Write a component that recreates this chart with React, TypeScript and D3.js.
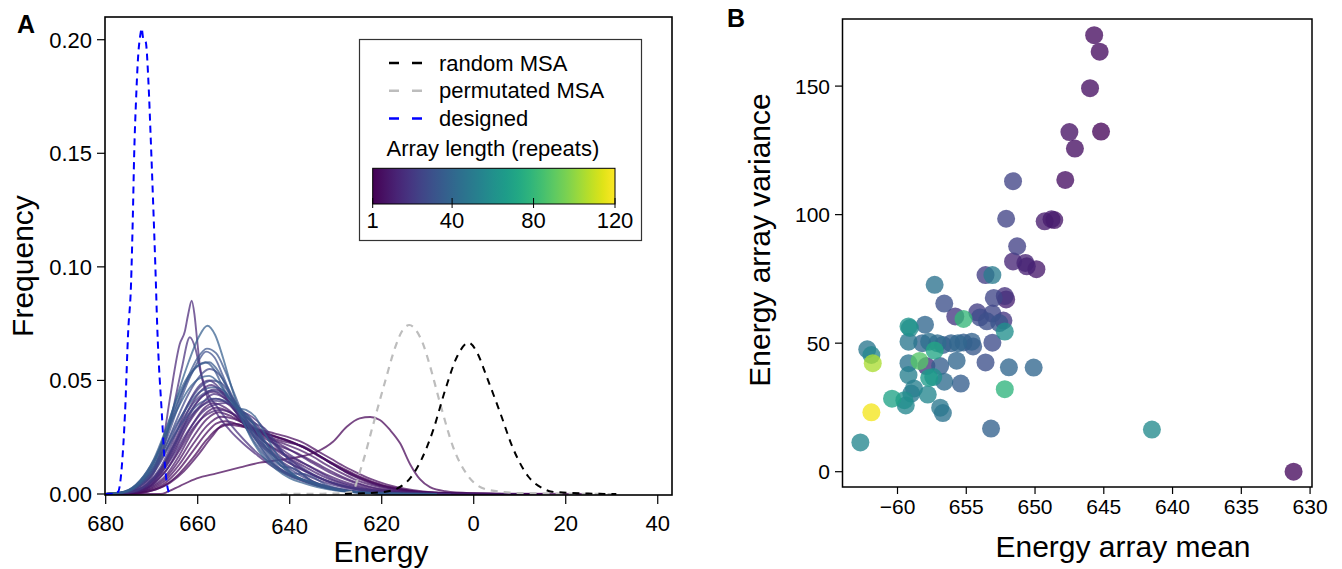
import React from "react";
import * as d3 from "d3";

// ---------- Panel A data ----------
const energyTicks = [-680, -660, -640, -620, -600, -580, -560];
const energyTickLabels = ["680", "660", "640", "620", "0", "20", "40"];
const energyTickLabelShift = [0, 0, 3, 0, 0, 0, 0];
const freqTicks = [0, 0.05, 0.1, 0.15, 0.2];
const freqTickLabels = ["0.00", "0.05", "0.10", "0.15", "0.20"];

type Pt = [number, number];

const designedCurve: Pt[] = [
  [-680, 0], [-678.3, 0], [-677.3, 0.001], [-676.5, 0.012], [-675.8, 0.0355], [-675.1, 0.072],
  [-674.5, 0.092], [-674.1, 0.122], [-673.8, 0.15], [-673.4, 0.1735], [-673.0, 0.191],
  [-672.4, 0.203], [-672.2, 0.205], [-671.8, 0.2], [-671.3, 0.199], [-670.7, 0.181],
  [-670.2, 0.156], [-669.7, 0.129], [-669.2, 0.1], [-668.8, 0.074], [-667.8, 0.0355],
  [-667.1, 0.012], [-666.4, 0.0015], [-666.0, 0],
];

const permutatedCurve: Pt[] = [
  [-642, 0], [-630, 0.0002], [-626.5, 0.001], [-624.4, 0.012], [-621.8, 0.031], [-619.2, 0.05],
  [-617, 0.065], [-615.5, 0.072], [-614, 0.0744], [-612.5, 0.072], [-611, 0.066], [-609.7, 0.0577],
  [-607.1, 0.0384], [-604.5, 0.0208], [-601.1, 0.0076], [-596.8, 0.0018], [-590, 0.0004],
  [-580, 0.0001], [-569, 0],
];

const randomCurve: Pt[] = [
  [-628, 0], [-625.2, 0.0002], [-619.2, 0.001], [-614.9, 0.0047], [-611.4, 0.015], [-608.8, 0.0282],
  [-606.2, 0.0458], [-603.5, 0.061], [-601.1, 0.0666], [-599.2, 0.062], [-597.2, 0.0517],
  [-594.2, 0.0355], [-591.6, 0.0208], [-588.1, 0.0076], [-585, 0.0025], [-583, 0.001],
  [-575, 0.0002], [-569, 0],
];

// density curves of arrays, coloured by array length (repeats)
const arrayCurveLengths = [1, 2, 3, 4, 5, 6, 8, 9, 14, 10, 11, 12, 17, 14, 15, 16, 17, 18, 20, 22, 24, 26, 28, 29, 30, 32, 33, 36, 34, 35];
const arrayCurvePoints: Pt[][] = [
  [[-680, 0], [-668, 0], [-666.5, 0.001], [-663.9, 0.0035], [-660.2, 0.0069], [-655.9, 0.0091], [-650.8, 0.0117], [-646.5, 0.0138], [-642.1, 0.015], [-637.8, 0.0164], [-634.1, 0.0186], [-630.6, 0.023], [-627.6, 0.0296], [-624.8, 0.0333], [-622.5, 0.0339], [-620.4, 0.0326], [-618.2, 0.0282], [-616, 0.0223], [-613.8, 0.013], [-611.7, 0.0065], [-609.5, 0.003], [-606.2, 0.0012], [-600.8, 0.0004], [-590, 0.0001], [-575, 0]],
  [[-680, 0], [-674, 0.0003], [-670, 0.0015], [-667, 0.004], [-664, 0.009], [-661, 0.016], [-658, 0.024], [-655.5, 0.029], [-653, 0.0305], [-650, 0.0295], [-647, 0.028], [-644, 0.026], [-641, 0.024], [-638, 0.0215], [-635, 0.0185], [-632, 0.015], [-629, 0.0118], [-626, 0.0088], [-623, 0.0062], [-620, 0.004], [-616, 0.0022], [-612, 0.001], [-606, 0.0004], [-598, 0.0001], [-585, 0]],
  [[-680, 0], [-674, 0.0004], [-670, 0.002], [-667, 0.005], [-664, 0.011], [-661, 0.019], [-658, 0.027], [-656, 0.031], [-654, 0.032], [-651, 0.0305], [-648, 0.0285], [-645, 0.0265], [-642, 0.0245], [-639, 0.0225], [-636, 0.0195], [-633, 0.016], [-630, 0.0125], [-627, 0.0093], [-624, 0.0066], [-621, 0.0044], [-617, 0.0024], [-613, 0.0011], [-607, 0.0004], [-598, 0.0001], [-585, 0]],
  [[-680, 0], [-673, 0.0004], [-669, 0.002], [-666, 0.005], [-663, 0.01], [-660, 0.017], [-657, 0.025], [-654.5, 0.0305], [-652, 0.031], [-649, 0.0295], [-646, 0.028], [-643, 0.0265], [-640, 0.0248], [-637, 0.0225], [-634, 0.019], [-631, 0.0155], [-628, 0.012], [-625, 0.009], [-622, 0.0063], [-619, 0.0042], [-615, 0.0023], [-611, 0.0011], [-605, 0.0004], [-596, 0.0001], [-585, 0]],
  [[-680, 0], [-674, 0.0005], [-670, 0.0025], [-667, 0.006], [-664, 0.013], [-661, 0.022], [-658, 0.03], [-655, 0.034], [-652, 0.033], [-649, 0.03], [-646, 0.027], [-643, 0.025], [-640, 0.023], [-637, 0.0205], [-634, 0.017], [-631, 0.0135], [-628, 0.01], [-625, 0.0072], [-622, 0.0048], [-619, 0.003], [-615, 0.0016], [-610, 0.0007], [-603, 0.0002], [-590, 0]],
  [[-680, 0], [-674, 0.0006], [-670, 0.003], [-667, 0.007], [-664, 0.015], [-661, 0.025], [-658, 0.033], [-655.5, 0.036], [-652.5, 0.034], [-649, 0.03], [-646, 0.0265], [-643, 0.024], [-640, 0.0225], [-637, 0.021], [-634, 0.0175], [-631, 0.0135], [-628, 0.0098], [-625, 0.0068], [-622, 0.0045], [-619, 0.0028], [-615, 0.0014], [-610, 0.0006], [-603, 0.0002], [-590, 0]],
  [[-680, 0], [-674, 0.0007], [-670, 0.0035], [-667, 0.008], [-664, 0.017], [-661, 0.028], [-658, 0.036], [-656, 0.038], [-653, 0.036], [-650, 0.031], [-647, 0.027], [-644, 0.024], [-641, 0.022], [-638, 0.0195], [-635, 0.0165], [-632, 0.0128], [-629, 0.0095], [-626, 0.0066], [-623, 0.0044], [-620, 0.0028], [-616, 0.0014], [-611, 0.0005], [-603, 0.0001], [-590, 0]],
  [[-680, 0], [-674, 0.0008], [-670, 0.004], [-667, 0.01], [-664, 0.02], [-661, 0.031], [-658.5, 0.038], [-656.5, 0.04], [-654, 0.038], [-651, 0.033], [-648, 0.028], [-645, 0.024], [-642, 0.021], [-639, 0.0185], [-636, 0.0155], [-633, 0.0122], [-630, 0.009], [-627, 0.0062], [-624, 0.004], [-621, 0.0025], [-617, 0.0012], [-611, 0.0004], [-600, 0]],
  [[-680, 0], [-676, 0.0005], [-672.5, 0.0035], [-669.6, 0.0102], [-667.5, 0.0235], [-666, 0.0425], [-663.9, 0.066], [-662.8, 0.0715], [-662.1, 0.0788], [-661.3, 0.0851], [-660.7, 0.079], [-660.2, 0.0693], [-659.5, 0.0561], [-658.4, 0.0458], [-656, 0.036], [-653, 0.028], [-650, 0.022], [-647, 0.017], [-644, 0.0125], [-641, 0.009], [-638, 0.0063], [-635, 0.0042], [-632, 0.0026], [-628, 0.0014], [-623, 0.0006], [-615, 0.0001], [-605, 0]],
  [[-680, 0], [-675, 0.0005], [-671, 0.003], [-668, 0.009], [-665, 0.019], [-662, 0.031], [-659, 0.039], [-656, 0.042], [-653, 0.039], [-650, 0.032], [-647, 0.026], [-644, 0.021], [-641, 0.0175], [-638, 0.0145], [-635, 0.0115], [-632, 0.0085], [-629, 0.006], [-626, 0.004], [-623, 0.0025], [-620, 0.0015], [-615, 0.0006], [-608, 0.0001], [-600, 0]],
  [[-680, 0], [-674, 0.0008], [-670, 0.004], [-667, 0.01], [-664, 0.019], [-661, 0.029], [-658, 0.035], [-655, 0.037], [-652, 0.035], [-649, 0.031], [-646, 0.027], [-643, 0.023], [-640, 0.0195], [-637, 0.016], [-634, 0.0125], [-631, 0.0092], [-628, 0.0065], [-625, 0.0043], [-622, 0.0027], [-618, 0.0014], [-613, 0.0005], [-604, 0]],
  [[-680, 0], [-675, 0.0006], [-671, 0.0035], [-668, 0.01], [-665, 0.021], [-662, 0.034], [-659, 0.043], [-656.5, 0.045], [-654, 0.042], [-651, 0.035], [-648, 0.028], [-645, 0.022], [-642, 0.018], [-639, 0.0145], [-636, 0.0112], [-633, 0.008], [-630, 0.0055], [-627, 0.0036], [-624, 0.0022], [-620, 0.0011], [-615, 0.0004], [-605, 0]],
  [[-680, 0], [-676, 0.0005], [-672.5, 0.003], [-669.6, 0.009], [-667.5, 0.02], [-665.5, 0.036], [-663.5, 0.055], [-661.7, 0.069], [-660.5, 0.064], [-659.3, 0.053], [-658, 0.045], [-656, 0.039], [-653, 0.031], [-650, 0.024], [-647, 0.018], [-644, 0.0135], [-641, 0.0098], [-638, 0.007], [-635, 0.0047], [-632, 0.003], [-628, 0.0016], [-623, 0.0007], [-615, 0.0001], [-605, 0]],
  [[-680, 0], [-675, 0.0007], [-671, 0.004], [-668, 0.011], [-665, 0.023], [-662, 0.037], [-659, 0.046], [-657, 0.048], [-654.5, 0.044], [-652, 0.037], [-649, 0.029], [-646, 0.022], [-643, 0.017], [-640, 0.0135], [-637, 0.0105], [-634, 0.0075], [-631, 0.005], [-628, 0.0032], [-625, 0.002], [-621, 0.001], [-615, 0.0003], [-605, 0]],
  [[-680, 0], [-675, 0.0006], [-671, 0.0035], [-668, 0.009], [-665, 0.018], [-662, 0.028], [-659, 0.036], [-656, 0.0395], [-654, 0.04], [-651, 0.037], [-648, 0.031], [-645, 0.025], [-642, 0.02], [-639, 0.016], [-636, 0.0125], [-633, 0.009], [-630, 0.006], [-627, 0.004], [-624, 0.0025], [-620, 0.0012], [-614, 0.0004], [-605, 0]],
  [[-680, 0], [-675, 0.0007], [-671, 0.004], [-668, 0.01], [-665, 0.02], [-662, 0.032], [-659, 0.04], [-656.5, 0.044], [-654, 0.042], [-651.5, 0.037], [-649, 0.035], [-646.5, 0.031], [-644, 0.024], [-641, 0.017], [-638, 0.012], [-635, 0.0085], [-632, 0.0058], [-629, 0.0038], [-626, 0.0024], [-622, 0.0012], [-616, 0.0004], [-605, 0]],
  [[-680, 0], [-675, 0.0007], [-671, 0.0042], [-668, 0.011], [-665, 0.022], [-662, 0.035], [-659, 0.043], [-656.5, 0.046], [-654, 0.044], [-651, 0.037], [-648, 0.029], [-645, 0.022], [-642, 0.0165], [-639, 0.0125], [-636, 0.0093], [-633, 0.0066], [-630, 0.0045], [-627, 0.003], [-623, 0.0016], [-618, 0.0006], [-608, 0]],
  [[-680, 0], [-675, 0.0008], [-671, 0.0045], [-668, 0.012], [-665, 0.025], [-662, 0.04], [-659.5, 0.048], [-657.5, 0.05], [-655, 0.046], [-652, 0.037], [-649, 0.028], [-646, 0.021], [-643, 0.016], [-640, 0.012], [-637, 0.0088], [-634, 0.0062], [-631, 0.0042], [-628, 0.0027], [-624, 0.0014], [-619, 0.0006], [-610, 0]],
  [[-680, 0], [-675, 0.0007], [-671, 0.0042], [-668, 0.011], [-665, 0.022], [-662, 0.033], [-659, 0.039], [-656, 0.041], [-653, 0.04], [-650, 0.036], [-647, 0.03], [-644, 0.023], [-641, 0.017], [-638, 0.0125], [-635, 0.0088], [-632, 0.006], [-629, 0.004], [-626, 0.0025], [-622, 0.0013], [-617, 0.0005], [-608, 0]],
  [[-680, 0], [-676, 0.0006], [-672.5, 0.0038], [-669.5, 0.0095], [-667, 0.018], [-664.5, 0.028], [-662, 0.037], [-659.5, 0.043], [-657, 0.0455], [-654.5, 0.044], [-652, 0.04], [-649.5, 0.034], [-647.5, 0.031], [-645.5, 0.029], [-643.5, 0.024], [-641, 0.017], [-638.5, 0.011], [-636, 0.0068], [-633, 0.004], [-629, 0.002], [-624, 0.0007], [-615, 0]],
  [[-680, 0], [-676, 0.0007], [-672.5, 0.004], [-669.5, 0.01], [-667, 0.019], [-664.5, 0.03], [-662, 0.04], [-659.5, 0.047], [-657, 0.05], [-655, 0.049], [-653, 0.044], [-651, 0.038], [-649, 0.031], [-646.5, 0.024], [-644, 0.018], [-641, 0.0125], [-638, 0.0085], [-635, 0.0055], [-632, 0.0035], [-628, 0.0018], [-623, 0.0006], [-614, 0]],
  [[-680, 0], [-676, 0.0007], [-672.5, 0.0042], [-669.5, 0.011], [-667, 0.021], [-664.5, 0.033], [-662, 0.044], [-659.5, 0.052], [-657.5, 0.055], [-655.5, 0.053], [-653.5, 0.047], [-651.5, 0.039], [-649.5, 0.031], [-647, 0.023], [-644.5, 0.016], [-642, 0.011], [-639, 0.0075], [-636, 0.005], [-633, 0.0032], [-629, 0.0017], [-624, 0.0006], [-615, 0]],
  [[-680, 0], [-676, 0.0007], [-672.5, 0.0042], [-669.5, 0.011], [-667, 0.019], [-664.5, 0.028], [-662, 0.035], [-659.5, 0.04], [-656.5, 0.042], [-654, 0.041], [-651.5, 0.037], [-649, 0.032], [-646.5, 0.026], [-644, 0.019], [-641.5, 0.013], [-639, 0.009], [-637, 0.0088], [-635, 0.0075], [-632.5, 0.0045], [-629, 0.0022], [-624, 0.0008], [-615, 0]],
  [[-680, 0], [-676, 0.0007], [-672.5, 0.0045], [-669.5, 0.012], [-667, 0.023], [-664.5, 0.037], [-662, 0.05], [-660, 0.058], [-658.2, 0.0627], [-656.3, 0.06], [-654.5, 0.052], [-652.5, 0.042], [-650.5, 0.033], [-648, 0.024], [-645.5, 0.017], [-643, 0.012], [-640, 0.0085], [-637.5, 0.0068], [-635, 0.0048], [-632, 0.0028], [-628, 0.0013], [-622, 0.0004], [-612, 0]],
  [[-680, 0], [-676, 0.0008], [-672.5, 0.0046], [-669.5, 0.012], [-667, 0.021], [-664.5, 0.031], [-662, 0.039], [-659.5, 0.045], [-656.5, 0.047], [-654, 0.045], [-651.5, 0.039], [-649, 0.031], [-646.5, 0.023], [-644, 0.016], [-641.5, 0.012], [-639.5, 0.0115], [-637.5, 0.009], [-635, 0.0055], [-632, 0.003], [-628, 0.0014], [-622, 0.0004], [-612, 0]],
  [[-680, 0], [-676, 0.0008], [-672.5, 0.005], [-669.5, 0.013], [-667, 0.025], [-664.5, 0.039], [-662, 0.052], [-660, 0.06], [-658, 0.064], [-656, 0.062], [-654, 0.054], [-652, 0.044], [-650, 0.034], [-648, 0.026], [-645.5, 0.018], [-643, 0.012], [-640, 0.008], [-637, 0.006], [-635, 0.005], [-632, 0.003], [-628, 0.0014], [-622, 0.0004], [-612, 0]],
  [[-680, 0], [-676, 0.0009], [-672.5, 0.0055], [-669.5, 0.014], [-667, 0.026], [-664.5, 0.04], [-662, 0.051], [-660, 0.0565], [-658.3, 0.058], [-656.5, 0.055], [-654.5, 0.047], [-652.5, 0.04], [-650.5, 0.037], [-648.5, 0.033], [-646.5, 0.025], [-644, 0.017], [-641, 0.011], [-638, 0.007], [-635, 0.0045], [-632, 0.0028], [-628, 0.0013], [-622, 0.0004], [-612, 0]],
  [[-680, 0], [-676, 0.0008], [-672.5, 0.005], [-669.5, 0.014], [-667, 0.027], [-664.5, 0.043], [-662, 0.058], [-659.8, 0.069], [-657.9, 0.0741], [-656.2, 0.07], [-654.5, 0.06], [-652.5, 0.046], [-650.5, 0.034], [-648.5, 0.025], [-646, 0.017], [-643, 0.011], [-640, 0.007], [-637, 0.0048], [-634, 0.003], [-630, 0.0015], [-625, 0.0006], [-618, 0.0001], [-608, 0]],
  [[-680, 0], [-676, 0.001], [-672.5, 0.006], [-669.5, 0.0155], [-667, 0.028], [-664.5, 0.042], [-662, 0.052], [-659.5, 0.057], [-657.5, 0.058], [-655.5, 0.054], [-653.5, 0.046], [-651.5, 0.038], [-649.5, 0.034], [-647.5, 0.03], [-645, 0.022], [-642.5, 0.014], [-640, 0.009], [-637, 0.006], [-634, 0.0038], [-630, 0.0018], [-624, 0.0005], [-615, 0]],
  [[-680, 0], [-676, 0.001], [-672.5, 0.006], [-669.5, 0.015], [-667, 0.026], [-664.5, 0.037], [-662, 0.046], [-659.5, 0.051], [-657.5, 0.052], [-655.5, 0.049], [-653.5, 0.043], [-651.5, 0.038], [-649.5, 0.037], [-647.5, 0.034], [-645.5, 0.027], [-643, 0.018], [-640.5, 0.011], [-638, 0.007], [-635.5, 0.0055], [-633, 0.004], [-630, 0.0022], [-625, 0.0008], [-617, 0.0001], [-608, 0]],
];

const legendEntries = ["random MSA", "permutated MSA", "designed"];
const legendColors = ["#000000", "#bdbdbd", "#0000ff"];
const colorbarTicks = [1, 40, 80, 120];

// ---------- Panel B data ----------
const meanTicks = [-660, -655, -650, -645, -640, -635, -630];
const meanTickLabels = ["\u221260", "655", "650", "645", "640", "635", "630"];
const varianceTicks = [0, 50, 100, 150];

const arrayMeans = [
  -645.7, -645.3, -646.0, -645.2, -647.5, -647.1, -647.8, -651.6, -652.1, -649.3,
  -648.8, -648.6, -651.3, -651.6, -650.7, -650.6, -649.9, -653.6, -653.1, -657.3,
  -656.6, -653.0, -652.2, -652.1, -655.8, -655.2, -654.2, -654.0, -653.5, -653.1,
  -652.6, -652.3, -658.0, -659.2, -659.1, -652.2, -662.2, -661.9, -661.8, -659.2,
  -658.2, -657.7, -657.1, -656.7, -656.1, -655.6, -655.2, -654.6, -654.5, -653.1,
  -657.3, -658.4, -659.2, -659.2, -657.9, -656.9, -655.7, -653.6, -651.9, -650.1,
  -657.7, -657.4, -656.6, -655.4, -652.2, -658.8, -659.0, -657.8, -660.4, -659.5,
  -659.4, -656.9, -656.7, -661.9, -653.2, -641.5, -662.7, -631.2,
];
const arrayVariances = [
  169.8, 163.4, 149.2, 132.3, 132.1, 125.7, 113.5, 113.0, 98.4, 97.4,
  98.2, 97.9, 87.7, 81.8, 81.2, 79.9, 78.8, 76.5, 76.5, 72.7,
  65.4, 67.6, 68.3, 67.0, 60.4, 59.4, 62.0, 60.0, 58.5, 61.5,
  57.8, 58.8, 57.2, 56.5, 55.9, 54.5, 47.6, 45.4, 42.2, 50.6,
  50.0, 50.6, 50.0, 49.3, 50.0, 50.0, 50.3, 50.6, 48.7, 50.2,
  47.1, 43.1, 42.2, 37.6, 41.1, 41.1, 43.2, 42.5, 40.6, 40.5,
  36.5, 36.8, 35.0, 34.3, 32.1, 32.4, 30.4, 30.0, 28.4, 27.8,
  25.8, 24.9, 22.8, 23.1, 16.8, 16.4, 11.4, 0.0,
];
const arrayLengths = [
  5, 5, 6, 3, 7, 6, 6, 25, 25, 10,
  10, 8, 24, 14, 13, 12, 9, 22, 50, 46,
  30, 26, 18, 12, 20, 80, 22, 28, 30, 26,
  32, 20, 40, 62, 58, 60, 48, 55, 105, 48,
  40, 44, 42, 36, 38, 40, 36, 38, 34, 28,
  72, 88, 46, 52, 18, 36, 40, 30, 40, 40,
  66, 60, 42, 36, 78, 52, 48, 56, 70, 60,
  56, 48, 46, 118, 38, 58, 56, 4,
];

const FONT = "'Liberation Sans', Arial, Helvetica, sans-serif";

export default function App() {
  const W = 1342;
  const H = 569;
  const lenColor = (l: number) => d3.interpolateViridis((l - 1) / 119);

  // ----- Panel A scales -----
  const xA = d3.scaleLinear().domain([-680.15, -556.9]).range([105, 672]);
  const yA = d3.scaleLinear().domain([0, 0.21]).range([494, 17]);
  const lineA = d3
    .line<Pt>()
    .x((d) => xA(d[0]))
    .y((d) => yA(d[1]))
    .curve(d3.curveMonotoneX);

  const curveOrder = d3.range(arrayCurvePoints.length).sort((a, b) => arrayCurveLengths[a] - arrayCurveLengths[b]);

  // colour bar scale
  const cb = d3.scaleLinear().domain([1, 120]).range([372.7, 615]);
  const gradStops = d3.range(0, 1.0001, 0.05);

  // ----- Panel B scales -----
  const xB = d3.scaleLinear().domain([-664.0, -629.86]).range([842.5, 1312]);
  const yB = d3.scaleLinear().domain([-5.95, 176.1]).range([487, 19]);
  const pointOrder = d3.range(arrayMeans.length).sort((a, b) => arrayLengths[a] - arrayLengths[b]);

  return (
    <svg
      width={W}
      height={H}
      style={{ position: "absolute", left: 0, top: 0, display: "block", background: "#fff" }}
      fontFamily={FONT}
    >
      <defs>
        <linearGradient id="viridisGrad" x1="0" x2="1" y1="0" y2="0">
          {gradStops.map((t, i) => (
            <stop key={i} offset={`${t * 100}%`} stopColor={d3.interpolateViridis(t)} />
          ))}
        </linearGradient>
      </defs>

      {/* ================= Panel A ================= */}
      <text x={17} y={33} fontSize={25} fontWeight="bold">A</text>

      <g fill="none">
        {curveOrder.map((i) => (
          <path
            key={i}
            d={lineA(arrayCurvePoints[i]) || ""}
            stroke={lenColor(arrayCurveLengths[i])}
            strokeOpacity={0.72}
            strokeWidth={1.9}
          />
        ))}
        <path d={lineA(permutatedCurve) || ""} stroke="#bdbdbd" strokeWidth={2.2} strokeDasharray="7,6" />
        <path d={lineA(randomCurve) || ""} stroke="#000" strokeWidth={2} strokeDasharray="7,6" />
        <path d={lineA(designedCurve) || ""} stroke="#0000ff" strokeWidth={2} strokeDasharray="7,5" />
      </g>

      <rect x={105} y={17} width={567} height={478} fill="none" stroke="#000" strokeWidth={1.6} />

      {freqTicks.map((t, i) => (
        <g key={t}>
          <line x1={97} x2={105} y1={yA(t)} y2={yA(t)} stroke="#000" strokeWidth={1.2} />
          <text x={92} y={yA(t)} dy="0.36em" textAnchor="end" fontSize={22}>
            {freqTickLabels[i]}
          </text>
        </g>
      ))}
      {energyTicks.map((t, i) => (
        <g key={t}>
          <line x1={xA(t)} x2={xA(t)} y1={495} y2={504} stroke="#000" strokeWidth={1.2} />
          <text x={xA(t)} y={531 + energyTickLabelShift[i]} textAnchor="middle" fontSize={22}>
            {energyTickLabels[i]}
          </text>
        </g>
      ))}
      <text x={381} y={562} textAnchor="middle" fontSize={30}>Energy</text>
      <text transform="translate(33,266) rotate(-90)" textAnchor="middle" fontSize={30}>Frequency</text>

      {/* legend */}
      <rect x={359.5} y={39.5} width={282} height={201} fill="#fff" stroke="#333" strokeWidth={1.2} />
      {legendEntries.map((lab, i) => {
        const yy = 63 + i * 27.7;
        return (
          <g key={lab}>
            <line x1={389} x2={422} y1={yy} y2={yy} stroke={legendColors[i]} strokeWidth={2.5} strokeDasharray="10,13" />
            <text x={439} y={yy} dy="0.35em" fontSize={22}>{lab}</text>
          </g>
        );
      })}
      <text x={386.5} y={148.5} dy="0.35em" fontSize={22}>Array length (repeats)</text>
      <rect x={cb(1)} y={168.3} width={cb(120) - cb(1)} height={35.7} fill="url(#viridisGrad)" stroke="#000" strokeWidth={1} />
      {colorbarTicks.map((t) => (
        <g key={t}>
          <line x1={cb(t)} x2={cb(t)} y1={198} y2={208} stroke="#000" strokeWidth={1} />
          <text x={cb(t)} y={228} textAnchor="middle" fontSize={22}>{t}</text>
        </g>
      ))}

      {/* ================= Panel B ================= */}
      <text x={727} y={27} fontSize={25} fontWeight="bold">B</text>

      <g>
        {pointOrder.map((i) => (
          <circle
            key={i}
            cx={xB(arrayMeans[i])}
            cy={yB(arrayVariances[i])}
            r={9}
            fill={lenColor(arrayLengths[i])}
            fillOpacity={0.78}
          />
        ))}
      </g>

      <rect x={842.5} y={19} width={469.5} height={468} fill="none" stroke="#000" strokeWidth={1.5} />

      {varianceTicks.map((t) => (
        <g key={t}>
          <line x1={835} x2={842.5} y1={yB(t)} y2={yB(t)} stroke="#000" strokeWidth={1.2} />
          <text x={830} y={yB(t)} dy="0.36em" textAnchor="end" fontSize={21}>{t}</text>
        </g>
      ))}
      {meanTicks.map((t, i) => (
        <g key={t}>
          <line x1={xB(t)} x2={xB(t)} y1={487} y2={494} stroke="#000" strokeWidth={1.2} />
          <text x={xB(t)} y={514} textAnchor="middle" fontSize={21}>{meanTickLabels[i]}</text>
        </g>
      ))}
      <text x={1123} y={557} textAnchor="middle" fontSize={30}>Energy array mean</text>
      <text transform="translate(770,240) rotate(-90)" textAnchor="middle" fontSize={30}>Energy array variance</text>
    </svg>
  );
}
